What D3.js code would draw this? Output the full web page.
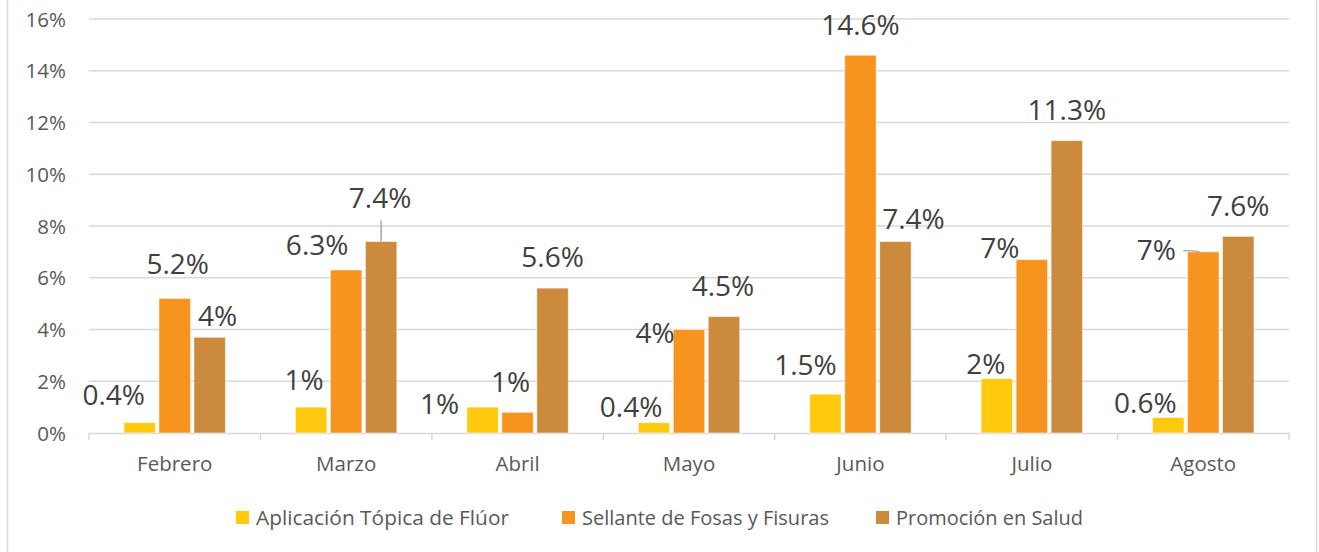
<!DOCTYPE html>
<html lang="es">

<head>
    <meta charset="utf-8">
    <title>Actividades por mes</title>
    <style>
        body {
            margin: 0;
            background: white;
        }

        text {
            font-family: "Open Sans", "Noto Sans", sans-serif;
        }

        .grid line {
            stroke: #d9d9d9;
            stroke-width: 1.3;
        }

        text.tick-label {
            fill: #595959;
            font-size: 20.5px;
        }

        text.value {
            fill: #404040;
            font-size: 28px;
        }

        text.legend {
            fill: #595959;
            font-size: 20.5px;
        }
    </style>
</head>

<body>
    <svg width="1319" height="552"></svg>
    <script src="https://d3js.org/d3.v7.min.js"></script>
    <script>
        var meses = ['Febrero', 'Marzo', 'Abril', 'Mayo', 'Junio', 'Julio', 'Agosto'];
        var series = ['Aplicación Tópica de Flúor', 'Sellante de Fosas y Fisuras', 'Promoción en Salud'];

        var fluor = [0.4, 1.0, 1.0, 0.4, 1.5, 2.1, 0.6];
        var sellante = [5.2, 6.3, 0.8, 4.0, 14.6, 6.7, 7.0];
        var promocion = [3.7, 7.4, 5.6, 4.5, 7.4, 11.3, 7.6];

        // etiquetas tal como aparecen en el grafico (redondeadas)
        var fluorLabels = ['0.4%', '1%', '1%', '0.4%', '1.5%', '2%', '0.6%'];
        var sellanteLabels = ['5.2%', '6.3%', '1%', '4%', '14.6%', '7%', '7%'];
        var promocionLabels = ['4%', '7.4%', '5.6%', '4.5%', '7.4%', '11.3%', '7.6%'];

        var yTicks = [0, 2, 4, 6, 8, 10, 12, 14, 16];

        var colors = ['#FFC90D', '#F7941D', '#CC8A3D'];

        // desplazamientos manuales de las etiquetas [dx, dy]
        var nudges = [
            [[-26, 3], [-7, 3], [-43, 27], [-23, 15], [-20, 1], [-11, 16], [-23, 16]],
            [[3, -4], [-29, 6], [-7, 0], [-34, 34], [0, 0], [-32, 19], [-47, 29]],
            [[8, 9], [-1, -13], [0, -1], [-1, 0], [18, 8], [0, 0], [0, 0]]
        ];

        var values = [fluor, sellante, promocion],
            labels = [fluorLabels, sellanteLabels, promocionLabels];

        var svg = d3.select('svg');

        var x0 = 89, x1 = 1289, yTop = 19, yBottom = 433;

        // marco del grafico
        svg.append('rect')
            .attr('x', 7.5).attr('y', -2)
            .attr('width', 1309).attr('height', 560)
            .attr('fill', 'none')
            .attr('stroke', '#d9d9d9')
            .attr('stroke-width', 1.5);

        var x = d3.scaleBand()
            .domain(meses)
            .range([x0, x1]);

        var xs = d3.scaleBand()
            .domain(d3.range(series.length))
            .range([35, x.bandwidth() - 35])
            .paddingInner(0.1);

        var y = d3.scaleLinear()
            .domain([0, 16])
            .range([yBottom, yTop]);

        // lineas de cuadricula
        svg.append('g')
            .attr('class', 'grid')
            .selectAll('line')
            .data(yTicks.filter(d => d > 0))
            .enter().append('line')
            .attr('x1', x0).attr('x2', x1)
            .attr('y1', d => y(d)).attr('y2', d => y(d));

        svg.append('g').selectAll('text')
            .data(yTicks)
            .enter().append('text')
            .attr('class', 'tick-label')
            .attr('x', 66)
            .attr('y', d => y(d) + 7.5)
            .attr('text-anchor', 'end')
            .text(d => d + '%');

        // eje x
        var xAxis = svg.append('g')
            .attr('transform', `translate(0, ${yBottom})`)
            .call(d3.axisBottom(x).tickSize(0).tickPadding(19));
        xAxis.select('.domain').attr('stroke', '#d9d9d9').attr('stroke-width', 1.5);
        xAxis.selectAll('.tick text')
            .attr('class', 'tick-label')
            .attr('dy', 0)
            .attr('y', 38);
        xAxis.attr('font-size', null).attr('font-family', null);

        svg.append('g').selectAll('line')
            .data(d3.range(meses.length + 1))
            .enter().append('line')
            .attr('x1', d => x0 + d * x.step()).attr('x2', d => x0 + d * x.step())
            .attr('y1', yBottom).attr('y2', yBottom + 7)
            .attr('stroke', '#d9d9d9')
            .attr('stroke-width', 1.5);

        // barras
        var groups = svg.append('g').selectAll('g')
            .data(meses)
            .enter().append('g')
            .attr('transform', d => `translate(${x(d)}, 0)`);

        groups.selectAll('rect')
            .data((m, i) => series.map((s, j) => ({ j: j, v: values[j][i] })))
            .enter().append('rect')
            .attr('x', d => xs(d.j))
            .attr('width', xs.bandwidth())
            .attr('y', d => y(d.v))
            .attr('height', d => yBottom - y(d.v))
            .attr('fill', d => colors[d.j])
            .attr('stroke', 'rgba(255,255,255,0.55)')
            .attr('stroke-width', 1);

        // lineas guia
        var leader = svg.append('g')
            .attr('fill', 'none')
            .attr('stroke', '#a6a6a6')
            .attr('stroke-width', 1.5);
        var cx = (i, j) => x(meses[i]) + xs(j) + xs.bandwidth() / 2;
        leader.append('line')
            .attr('x1', cx(1, 2)).attr('x2', cx(1, 2))
            .attr('y1', y(promocion[1]) - 21).attr('y2', y(promocion[1]));
        leader.append('path')
            .attr('d', `M${cx(6, 1) - 20},${y(sellante[6]) - 1} Q${cx(6, 1) - 8},${y(sellante[6]) - 2} ${cx(6, 1) - 2},${y(sellante[6]) + 1}`);

        // etiquetas de valor
        groups.selectAll('text.value')
            .data((m, i) => series.map((s, j) => ({ j: j, i: i, v: values[j][i], t: labels[j][i] })))
            .enter().append('text')
            .attr('class', 'value')
            .attr('text-anchor', 'middle')
            .attr('x', d => xs(d.j) + xs.bandwidth() / 2 + nudges[d.j][d.i][0])
            .attr('y', d => y(d.v) - 20.5 + nudges[d.j][d.i][1])
            .text(d => d.t);

        // leyenda
        var legendPos = [236, 562, 876];
        var legendWidth = [253, 247, 187];
        var legend = svg.append('g').selectAll('g')
            .data(series)
            .enter().append('g')
            .attr('transform', (d, i) => `translate(${legendPos[i]}, 510)`);
        legend.append('rect')
            .attr('width', 13).attr('height', 13)
            .attr('y', 1)
            .attr('fill', (d, i) => colors[i]);
        legend.append('text')
            .attr('class', 'legend')
            .attr('x', 20)
            .attr('y', 15)
            .attr('textLength', (d, i) => legendWidth[i])
            .attr('lengthAdjust', 'spacingAndGlyphs')
            .text(d => d);
    </script>
</body>

</html>
